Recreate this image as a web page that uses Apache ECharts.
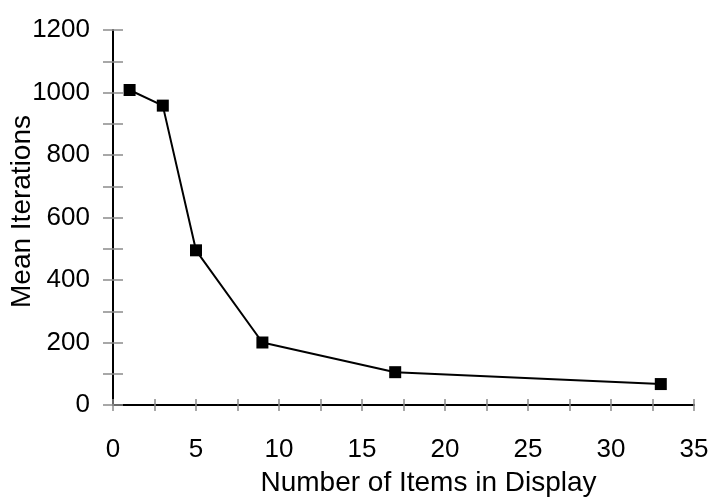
<!DOCTYPE html>
<html>
<head>
<meta charset="utf-8">
<script src="https://cdn.jsdelivr.net/npm/echarts@6/dist/echarts.min.js"></script>
<style>
html,body{margin:0;padding:0;background:#fff;}
#chart{width:708px;height:500px;}
</style>
</head>
<body>
<div id="chart"></div>
<script>
const itemsInDisplay = [1, 3, 5, 9, 17, 33];
const meanIterations = [1008, 958, 495, 200, 105, 67];
const xAxisTitle = 'Number of Items in Display';
const yAxisTitle = 'Mean Iterations';

const FONT = 'Liberation Sans, Arial, sans-serif';
const FS = 26;
const FT = 28;
const tickColor = '#8c8c8c';

const chart = echarts.init(document.getElementById('chart'));
const xBase = {
  type: 'value', min: 0, max: 35, interval: 2.5, position: 'bottom',
  splitLine: {show: false}
};
const yBase = {
  type: 'value', min: 0, max: 1200, interval: 100, position: 'left',
  splitLine: {show: false}
};
chart.setOption({
  animation: false,
  backgroundColor: '#fff',
  grid: {left: 113, right: 14, top: 30, bottom: 95, containLabel: false, outerBoundsMode: 'none'},
  xAxis: [
    Object.assign({}, xBase, {
      axisLine: {show: true, lineStyle: {color: '#000', width: 2}},
      axisTick: {show: true, inside: false, length: 6, lineStyle: {color: tickColor, width: 1.5}},
      axisLabel: {
        show: true, margin: 32, color: '#000', fontSize: FS, fontFamily: FONT,
        formatter: v => (v % 5 === 0 ? String(v) : '')
      },
      name: xAxisTitle, nameLocation: 'middle', nameGap: 64,
      nameTextStyle: {color: '#000', fontSize: FT, fontFamily: FONT, padding: [0, 0, 0, 50]}
    }),
    Object.assign({}, xBase, {
      axisLine: {show: false},
      axisTick: {show: true, inside: true, length: 6, lineStyle: {color: tickColor, width: 1.5}},
      axisLabel: {show: false}
    })
  ],
  yAxis: [
    Object.assign({}, yBase, {
      axisLine: {show: true, lineStyle: {color: '#000', width: 2}},
      axisTick: {show: true, inside: false, length: 10, lineStyle: {color: tickColor, width: 1.5}},
      axisLabel: {
        show: true, margin: 23, color: '#000', fontSize: FS, fontFamily: FONT,
        formatter: v => (v % 200 === 0 ? String(v) : '')
      },
      name: yAxisTitle, nameLocation: 'middle', nameGap: 77, nameRotate: 90,
      nameMoveOverlap: false,
      nameTextStyle: {color: '#000', fontSize: FT, fontFamily: FONT, padding: [0, 0, 0, 12]}
    }),
    Object.assign({}, yBase, {
      axisLine: {show: false},
      axisTick: {show: true, inside: true, length: 10, lineStyle: {color: tickColor, width: 1.5}},
      axisLabel: {show: false}
    })
  ],
  series: [{
    type: 'line',
    xAxisIndex: 0, yAxisIndex: 0,
    data: itemsInDisplay.map((x, i) => [x, meanIterations[i]]),
    symbol: 'rect', symbolSize: 12,
    itemStyle: {color: '#000'},
    lineStyle: {color: '#000', width: 2},
    z: 5
  }]
});
</script>
</body>
</html>
